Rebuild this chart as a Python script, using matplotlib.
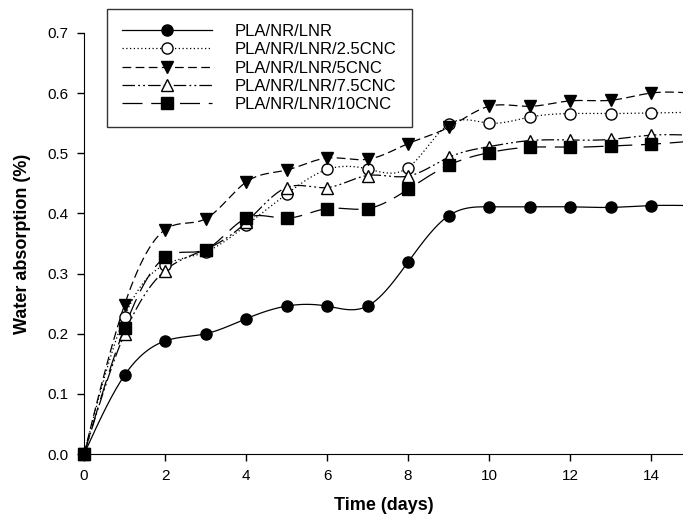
import numpy as np
import matplotlib.pyplot as plt
from matplotlib.lines import Line2D

plt.rcParams['font.family'] = ['Liberation Sans', 'DejaVu Sans']

# Days of immersion (last value lies past the cropped right edge)
days = [0, 1, 2, 3, 4, 5, 6, 7, 8, 9, 10, 11, 12, 13, 14, 15]

labels = ["PLA/NR/LNR", "PLA/NR/LNR/2.5CNC", "PLA/NR/LNR/5CNC",
          "PLA/NR/LNR/7.5CNC", "PLA/NR/LNR/10CNC"]

pla = [0, 0.131, 0.188, 0.200, 0.225, 0.246, 0.246, 0.246, 0.319, 0.396,
       0.411, 0.411, 0.411, 0.410, 0.413, 0.413]
cnc25 = [0, 0.228, 0.315, 0.336, 0.380, 0.432, 0.473, 0.474, 0.476, 0.548,
         0.550, 0.560, 0.566, 0.566, 0.567, 0.568]
cnc5 = [0, 0.248, 0.373, 0.391, 0.452, 0.472, 0.492, 0.490, 0.516, 0.543,
        0.578, 0.578, 0.587, 0.588, 0.600, 0.600]
cnc75 = [0, 0.200, 0.305, 0.340, 0.385, 0.443, 0.443, 0.463, 0.462, 0.493,
         0.511, 0.521, 0.522, 0.523, 0.530, 0.530]
cnc10 = [0, 0.210, 0.327, 0.340, 0.392, 0.392, 0.408, 0.408, 0.440, 0.480,
         0.501, 0.510, 0.510, 0.512, 0.515, 0.520]

series = [pla, cnc25, cnc5, cnc75, cnc10]
markers = ["o", "o", "v", "^", "s"]
faces = ["black", "white", "black", "white", "black"]
styles = ["-", (0, (1, 2)), (0, (7, 3.5)), (0, (10, 2.5, 1.5, 2.5, 1.5, 2.5)),
          (0, (16, 7))]


def natural_spline(x, y, n=400):
    # natural cubic spline through the points
    x = np.asarray(x, float)
    y = np.asarray(y, float)
    k = len(x)
    h = np.diff(x)
    A = np.zeros((k, k))
    b = np.zeros(k)
    A[0, 0] = 1
    A[-1, -1] = 1
    for i in range(1, k - 1):
        A[i, i - 1] = h[i - 1]
        A[i, i] = 2 * (h[i - 1] + h[i])
        A[i, i + 1] = h[i]
        b[i] = 6 * ((y[i + 1] - y[i]) / h[i] - (y[i] - y[i - 1]) / h[i - 1])
    M = np.linalg.solve(A, b)
    xs = np.linspace(x[0], x[-1], n)
    idx = np.clip(np.searchsorted(x, xs) - 1, 0, k - 2)
    x0, x1 = x[idx], x[idx + 1]
    hh = x1 - x0
    t0 = x1 - xs
    t1 = xs - x0
    ys = (M[idx] * t0 ** 3 / (6 * hh) + M[idx + 1] * t1 ** 3 / (6 * hh)
          + (y[idx] / hh - M[idx] * hh / 6) * t0
          + (y[idx + 1] / hh - M[idx + 1] * hh / 6) * t1)
    return xs, ys


fig = plt.figure(figsize=(6.83, 5.22), dpi=100)
ax = fig.add_axes([0.123, 0.130, 0.877, 0.807])

handles = []
for vals, mk, fc, ls, lab in zip(series, markers, faces, styles, labels):
    xs, ys = natural_spline(days, vals)
    ax.plot(xs, ys, color="black", lw=0.9, linestyle=ls)
    ax.plot(days[:-1], vals[:-1], linestyle="none", marker=mk, ms=8,
            mfc=fc, mec="black", mew=1, clip_on=False, zorder=3)
    handles.append(Line2D([], [], color="black", lw=0.9, linestyle=ls,
                          marker=mk, ms=8, mfc=fc, mec="black", mew=1))

ax.set_xlim(0, 14.79)
ax.set_ylim(0, 0.7)
ax.set_xticks([0, 2, 4, 6, 8, 10, 12, 14])
ax.set_yticks([0.0, 0.1, 0.2, 0.3, 0.4, 0.5, 0.6, 0.7])
ax.set_yticklabels(["0.0", "0.1", "0.2", "0.3", "0.4", "0.5", "0.6", "0.7"])
ax.spines["top"].set_visible(False)
ax.spines["right"].set_visible(False)
ax.tick_params(direction="out", length=5, width=1, labelsize=11, pad=6)

ax.set_xlabel("Time (days)", fontsize=13, fontweight="bold", labelpad=10)
ax.set_ylabel("Water absorption (%)", fontsize=13, fontweight="bold",
              labelpad=12)

leg = ax.legend(handles=handles, labels=labels, loc="upper left",
                bbox_to_anchor=(0.038, 1.057), borderaxespad=0,
                fontsize=12, handlelength=5.4, frameon=True, fancybox=False,
                edgecolor="black", borderpad=0.9, labelspacing=0.2,
                handletextpad=1.4)
leg.get_frame().set_linewidth(1)

fig.savefig("out.png", dpi=100)
